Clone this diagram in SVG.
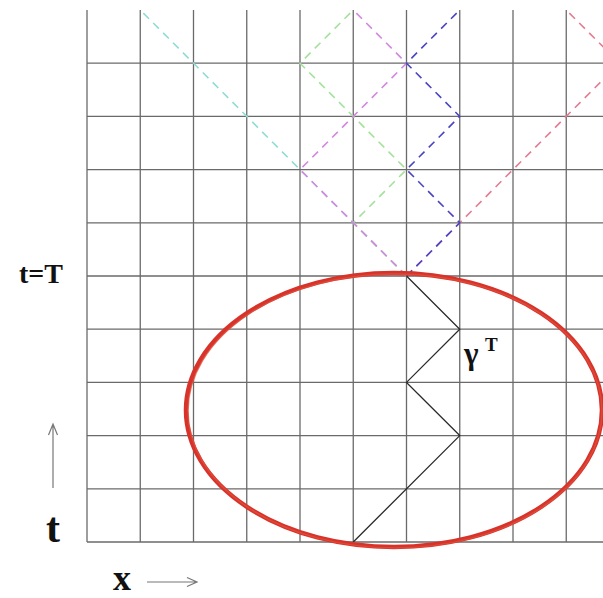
<svg xmlns="http://www.w3.org/2000/svg" width="603" height="598" viewBox="0 0 603 598">
<style>
.grid line{stroke:#6a6a6a;stroke-width:1.3}
.dash{fill:none;stroke-width:1.6;stroke-dasharray:8 6}
.lbl{font-family:"Liberation Serif","Times New Roman",serif;font-weight:bold;fill:#111}
.arr{fill:none;stroke:#777;stroke-width:1.2}
</style>
<rect width="603" height="598" fill="#fff"/>
<g id="grid" class="grid">
<line x1="87" y1="10" x2="87" y2="542"/>
<line x1="140.25" y1="10" x2="140.25" y2="542"/>
<line x1="193.5" y1="10" x2="193.5" y2="542"/>
<line x1="246.75" y1="10" x2="246.75" y2="542"/>
<line x1="300" y1="10" x2="300" y2="542"/>
<line x1="353.25" y1="10" x2="353.25" y2="542"/>
<line x1="406.5" y1="10" x2="406.5" y2="542"/>
<line x1="459.75" y1="10" x2="459.75" y2="542"/>
<line x1="513" y1="10" x2="513" y2="542"/>
<line x1="566.25" y1="10" x2="566.25" y2="542"/>
<line x1="87" y1="542" x2="603" y2="542"/>
<line x1="87" y1="488.8" x2="603" y2="488.8"/>
<line x1="87" y1="435.6" x2="603" y2="435.6"/>
<line x1="87" y1="382.4" x2="603" y2="382.4"/>
<line x1="87" y1="329.2" x2="603" y2="329.2"/>
<line x1="87" y1="276" x2="603" y2="276"/>
<line x1="87" y1="222.8" x2="603" y2="222.8"/>
<line x1="87" y1="169.6" x2="603" y2="169.6"/>
<line x1="87" y1="116.4" x2="603" y2="116.4"/>
<line x1="87" y1="63.2" x2="603" y2="63.2"/>
</g>
<g id="connectors">
<path id="path-cyan" class="dash" stroke="#8fdcd4" d="M406.5,276 L140.25,10"/>
<path id="path-green" class="dash" stroke="#a3e29a" d="M406.5,276 L353.25,222.8 L406.5,169.6 L300,63.2 L353.25,10"/>
<path id="path-magenta" class="dash" stroke="#d487e0" d="M406.5,276 L300,169.6 L406.5,63.2 L353.25,10"/>
<path id="path-red" class="dash" stroke="#e27c92" d="M406.5,276 L619.5,63.2 L566.25,10"/>
<path id="path-blue" class="dash" stroke="#4a44c4" stroke-width="2.2" d="M406.5,276 L459.75,222.8 L406.5,169.6 L459.75,116.4 L406.5,63.2 L459.75,10"/>
<path id="gamma-path" fill="none" stroke="#2a2a2a" stroke-width="1.3" d="M353.25,542 L459.75,435.6 L406.5,382.4 L459.75,329.2 L406.5,276"/>
</g>
<g id="region">
<ellipse cx="394" cy="410" rx="208" ry="137" fill="none" stroke="#d8332a" stroke-width="4.5"/>
<ellipse cx="395" cy="411" rx="207" ry="137" fill="none" stroke="#e0523f" stroke-width="1.5" opacity="0.7"/>
</g>
<g id="labels">
<text class="lbl" x="19" y="283" font-size="28">t=T</text>
<text class="lbl" x="464" y="364" font-size="31">γ</text>
<text class="lbl" x="485" y="351" font-size="19">T</text>
<text class="lbl" x="46" y="542" font-size="42">t</text>
<text class="lbl" x="113" y="590" font-size="36">x</text>
</g>
<g id="axes">
<path class="arr" d="M53,488 L53,424 M48.5,435 L53,424 L57.5,435"/>
<path class="arr" d="M147,582 L197,582 M187,577.5 L197,582 L187,586.5"/>
</g>
</svg>
